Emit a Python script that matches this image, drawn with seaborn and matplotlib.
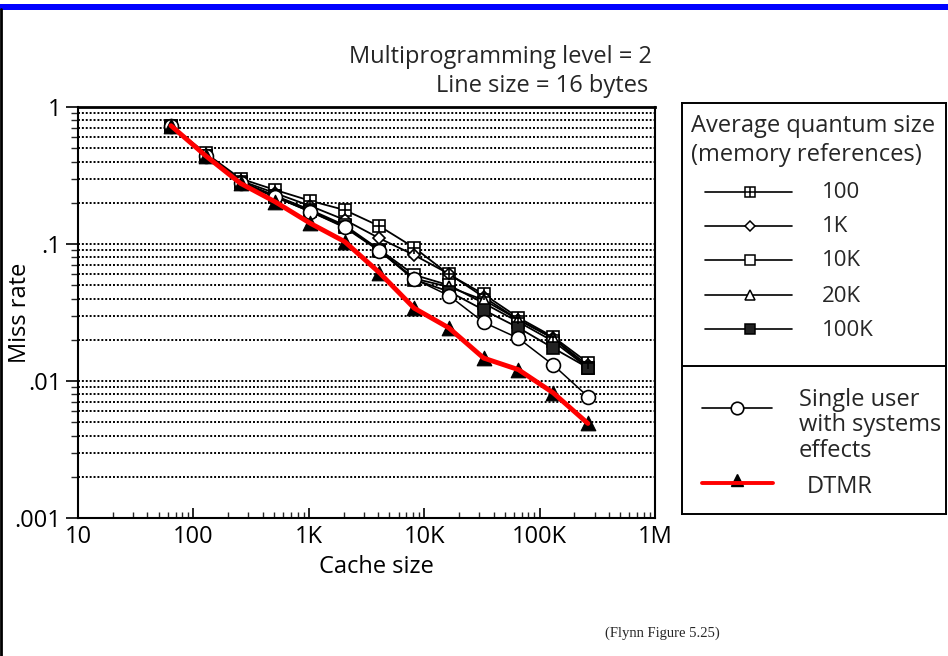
import matplotlib
matplotlib.use("Agg")
import matplotlib.pyplot as plt
from matplotlib.lines import Line2D
from matplotlib.ticker import FixedLocator, FixedFormatter, LogLocator, NullFormatter
import pandas as pd
import seaborn as sns

# --- DATA ---
cache_sizes = [64, 128, 256, 512, 1024, 2048, 4096, 8192, 16384, 32768, 65536, 131072, 262144]
q100 = [0.73, 0.46, 0.30, 0.248, 0.207, 0.177, 0.135, 0.094, 0.060, 0.043, 0.029, 0.021, 0.0136]
q1k = [0.73, 0.45, 0.29, 0.235, 0.19, 0.15, 0.110, 0.083, 0.0605, 0.041, 0.028, 0.0205, 0.013]
q10k = [0.73, 0.44, 0.285, 0.225, 0.178, 0.137, 0.091, 0.0595, 0.050, 0.037, 0.027, 0.0195, 0.0125]
q20k = [0.73, 0.44, 0.285, 0.222, 0.175, 0.134, 0.090, 0.056, 0.0486, 0.039, 0.028, 0.0205, 0.0125]
q100k = [0.73, 0.44, 0.28, 0.22, 0.173, 0.132, 0.089, 0.055, 0.045, 0.033, 0.0245, 0.0174, 0.0125]
single_user = [0.73, 0.44, 0.28, 0.221, 0.172, 0.134, 0.0894, 0.0556, 0.042, 0.0268, 0.0205, 0.0131, 0.0077]
dtmr = [0.73, 0.44, 0.277, 0.203, 0.142, 0.104, 0.0617, 0.034, 0.0244, 0.0147, 0.0121, 0.0082, 0.0049]

quantum_labels = ["100", "1K", "10K", "20K", "100K"]
x_ticks = [10, 100, 1e3, 1e4, 1e5, 1e6]
x_tick_labels = ["10", "100", "1K", "10K", "100K", "1M"]
y_ticks = [0.001, 0.01, 0.1, 1]
y_tick_labels = [".001", ".01", ".1", "1"]

# --- STYLE ---
sns.set_theme(style="white")
plt.rcParams["font.family"] = ["Open Sans", "DejaVu Sans"]
FS = 17

# marker spec per series: (marker, size, facecolor)
styles = {
    "100": ("s", 9, "white"),
    "1K": ("D", 6.5, "white"),
    "10K": ("s", 9, "white"),
    "20K": ("^", 9, "white"),
    "100K": ("s", 9, "#222222"),
}

df = pd.DataFrame({
    "size": cache_sizes * 5,
    "miss": q100 + q1k + q10k + q20k + q100k,
    "quantum": [q for q in quantum_labels for _ in cache_sizes],
})

fig = plt.figure(figsize=(9.48, 6.56), dpi=100)
ax = fig.add_axes([78 / 948, 1 - 518 / 656, 577 / 948, 411 / 656])

for q in quantum_labels:
    sub = df[df["quantum"] == q]
    m, ms, fc = styles[q]
    sns.lineplot(data=sub, x="size", y="miss", ax=ax, color="black", lw=1.3,
                 marker=m, markersize=ms, markerfacecolor=fc,
                 markeredgecolor="black", markeredgewidth=1.2, zorder=3)
# cross inside the "100" squares
sns.scatterplot(x=cache_sizes, y=q100, ax=ax, marker="+", s=80, color="black",
                linewidth=1.2, zorder=4)

sns.lineplot(x=cache_sizes, y=single_user, ax=ax, color="black", lw=1.1,
             marker="o", markersize=10, markerfacecolor="white",
             markeredgecolor="black", markeredgewidth=1.2, zorder=5)

sns.scatterplot(x=cache_sizes, y=dtmr, ax=ax, marker="^", s=110, color="black",
                edgecolor="black", zorder=6)
sns.lineplot(x=cache_sizes, y=dtmr, ax=ax, color="red", lw=3.5, zorder=7)

ax.set_xscale("log")
ax.set_yscale("log")
ax.set_xlim(10, 1e6)
ax.set_ylim(0.001, 1)

ax.xaxis.set_major_locator(FixedLocator(x_ticks))
ax.xaxis.set_major_formatter(FixedFormatter(x_tick_labels))
ax.xaxis.set_minor_locator(LogLocator(base=10, subs=range(2, 10)))
ax.xaxis.set_minor_formatter(NullFormatter())
ax.yaxis.set_major_locator(FixedLocator(y_ticks))
ax.yaxis.set_major_formatter(FixedFormatter(y_tick_labels))
ax.yaxis.set_minor_locator(LogLocator(base=10, subs=range(2, 10)))
ax.yaxis.set_minor_formatter(NullFormatter())

ax.tick_params(axis="x", which="major", direction="in", length=7, width=1.2,
               labelsize=FS, pad=5, bottom=True, colors="black")
ax.tick_params(axis="x", which="minor", direction="in", length=4, width=1.0, bottom=True)
ax.tick_params(axis="y", which="major", direction="out", length=9, width=1.2,
               labelsize=FS, pad=3, left=True, colors="black")
ax.tick_params(axis="y", which="minor", direction="out", length=5, width=1.0, left=True)

ax.grid(False)
ax.grid(True, axis="y", which="both", color="black", linestyle=(0, (1, 1)), lw=1.4)

for side in ["left", "bottom", "right"]:
    ax.spines[side].set_visible(True)
    ax.spines[side].set_color("black")
    ax.spines[side].set_linewidth(1.5)
ax.spines["top"].set_linewidth(2)
ax.spines["top"].set_color("black")

ax.set_xlabel("Cache size", fontsize=FS, color="black")
ax.set_ylabel("Miss rate", fontsize=FS, color="black")
ax.xaxis.set_label_coords((376 - 78) / 577, (518 - 555) / 411)
ax.yaxis.set_label_coords((32 - 78) / 577, 0.5)

fig.text(652 / 948, 1 - 57 / 656, "Multiprogramming level = 2", ha="right", va="center", fontsize=FS)
fig.text(648 / 948, 1 - 86 / 656, "Line size = 16 bytes", ha="right", va="center", fontsize=FS)

# --- LEGEND BOX (pixel coordinates) ---
lg = fig.add_axes([682 / 948, 1 - 514 / 656, 264 / 948, 411 / 656])
lg.set_xlim(682, 946)
lg.set_ylim(514, 103)
lg.set_xticks([])
lg.set_yticks([])
for s in lg.spines.values():
    s.set_visible(True)
    s.set_color("black")
    s.set_linewidth(1.4)
lg.set_facecolor("white")

lg.text(691, 126, "Average quantum size", fontsize=FS, va="center", ha="left")
lg.text(691, 155, "(memory references)", fontsize=FS, va="center", ha="left")
entry_y = [192, 226, 260, 295, 329]
for q, yy in zip(quantum_labels, entry_y):
    m, ms, fc = styles[q]
    lg.plot([705, 792], [yy, yy], color="black", lw=1.2)
    lg.plot([750], [yy], marker=m, markersize=ms * 0.85, markerfacecolor=fc,
            markeredgecolor="black", markeredgewidth=1.1, color="black")
    if q == "100":
        lg.plot([750], [yy], marker="+", markersize=ms * 0.85, color="black", mew=1.1)
    lg.text(822, yy + 1, q, fontsize=16, va="center", ha="left")

lg.plot([682, 946], [366, 366], color="black", lw=1.4)
lg.plot([702, 772], [408, 408], color="black", lw=1.2)
lg.plot([737], [408], marker="o", markersize=9, markerfacecolor="white",
        markeredgecolor="black", markeredgewidth=1.2)
lg.text(799, 400, "Single user", fontsize=FS, va="center", ha="left")
lg.text(799, 425, "with systems", fontsize=FS, va="center", ha="left")
lg.text(799, 451, "effects", fontsize=FS, va="center", ha="left")
lg.plot([737], [480], marker="^", markersize=8, color="black")
lg.plot([702, 773], [483, 483], color="red", lw=2.8)
lg.text(807, 487, "DTMR", fontsize=FS, va="center", ha="left")

# --- PAGE DECORATION ---
fig.add_artist(plt.Rectangle((0, 1 - 9.5 / 656), 1, 5.5 / 656, transform=fig.transFigure,
                             color="#0000ff", lw=0))
fig.add_artist(Line2D([0.5 / 948, 0.5 / 948], [0, 1 - 9 / 656], transform=fig.transFigure,
                      color="black", lw=2))
fig.text(662 / 948, 1 - 633 / 656, "(Flynn Figure 5.25)", ha="center", va="center",
         fontsize=10.5, family=["Liberation Serif", "DejaVu Serif"])

fig.savefig("out.png", dpi=100)
